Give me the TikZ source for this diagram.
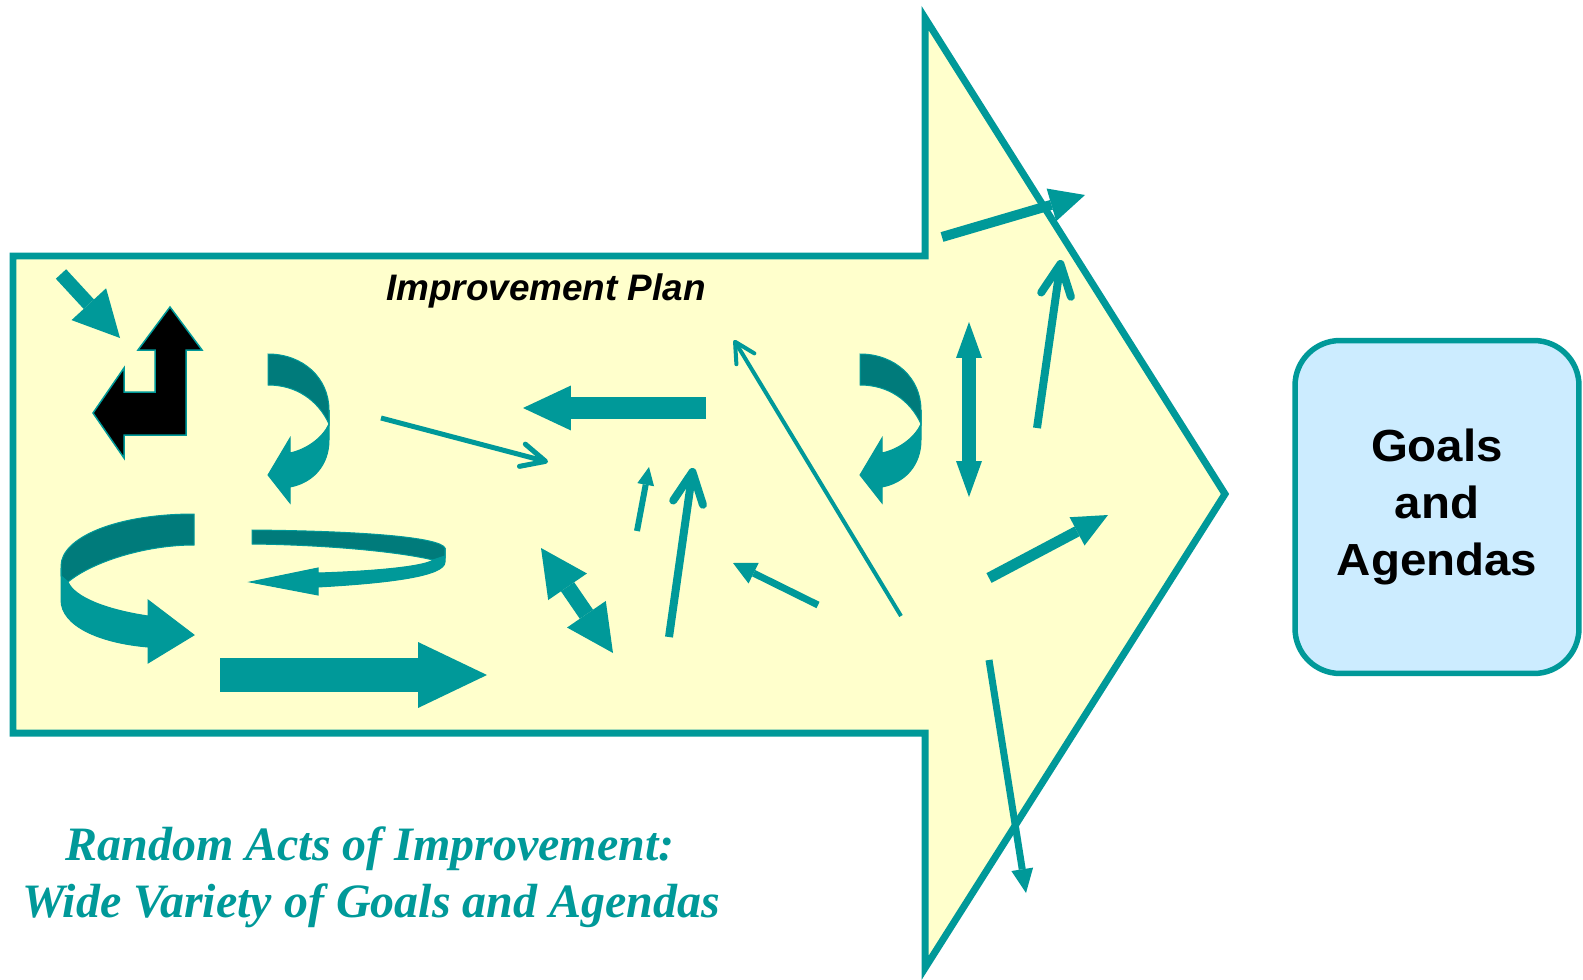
\documentclass[tikz,border=0pt]{standalone}
\usepackage{fontspec}
\newfontfamily\arialf{Liberation Sans}
\newfontfamily\arialw[FakeStretch=1.055]{Liberation Sans}
\newfontfamily\timesf{Liberation Serif}
\usetikzlibrary{arrows.meta}
\definecolor{tealc}{HTML}{009999}
\definecolor{darkteal}{HTML}{007B7B}
\definecolor{paleyellow}{HTML}{FFFFCC}
\definecolor{paleblue}{HTML}{CCECFF}
\tikzset{
  outline/.style={draw=tealc, fill=paleyellow, line width=0.14cm, line join=miter},
  barrow/.style args={#1/#2/#3}{draw=tealc, line width=#1cm, line cap=butt,
    -{Triangle[length=#2cm,width=#3cm,line width=0pt]}},
  dbarrow/.style args={#1/#2/#3}{draw=tealc, line width=#1cm, line cap=butt,
    {Triangle[length=#2cm,width=#3cm,line width=0pt]}-{Triangle[length=#2cm,width=#3cm,line width=0pt]}},
  oarrow/.style args={#1/#2/#3}{draw=tealc, line width=#1cm, line cap=butt,
    -{Straight Barb[length=#2cm,width=#3cm,round]}},
  ribbondark/.style={fill=darkteal, draw=tealc, line width=0.02cm},
  ribbonlight/.style={fill=tealc, draw=tealc, line width=0.02cm},
  goalbox/.style={draw=tealc, fill=paleblue, line width=0.11cm, rounded corners=0.9cm,
    minimum width=5.68cm, minimum height=6.66cm, align=center,
    font=\arialw\bfseries\fontsize{25.6}{32.6}\selectfont},
  plantext/.style={font=\arialf\bfseries\itshape\fontsize{21}{25}\selectfont},
  captext/.style={text=tealc, anchor=base, font=\timesf\bfseries\itshape\fontsize{27.3}{32}\selectfont}
}
\newcommand\curlarr{%
  \fill[ribbondark] (268,354) .. controls (303,354) and (329,378) .. (329,410)
     -- (329,424) .. controls (318,400) and (296,385) .. (268,385) -- cycle;
  \fill[ribbonlight] (329,410) -- (329,440) .. controls (329,466) and (312,483) .. (290,487)
     -- (290,503) -- (268,475) -- (290,438) -- (290,453)
     .. controls (308,449) and (323,437) .. (329,424) -- cycle;
}
\begin{document}
\begin{tikzpicture}[x=0.02cm,y=-0.02cm]
\useasboundingbox (0,0) rectangle (1583,980);
\fill[white] (0,0) rectangle (1583,980);
% big arrow
\draw[outline] (13,256) -- (925,256) -- (925,18) -- (1225,494) -- (925,968) -- (925,733) -- (13,733) -- cycle;
\node[plantext] (plan) at (546,291) {Improvement Plan};
% black bent arrow
\filldraw[fill=black, draw=tealc, line width=0.03cm, line join=miter]
  (170,307) -- (202,350) -- (186,350) -- (186,435) -- (124,435) -- (124,458) -- (93,413)
  -- (124,368) -- (124,392) -- (155,392) -- (155,350) -- (138,350) -- cycle;
% curled arrows
\curlarr
\begin{scope}[shift={(592,0)}]\curlarr\end{scope}
% big C ribbon
\fill[ribbondark] (194,514) .. controls (115,514) and (61,538) .. (61,566) -- (61,576) -- (68,582)
   .. controls (92,562) and (145,545) .. (194,545) -- cycle;
\fill[ribbonlight] (61,568) -- (61,600) .. controls (61,626) and (100,643) .. (148,647)
   -- (148,663) -- (194,635) -- (148,600) -- (148,616) .. controls (108,610) and (75,598) .. (68,582)
   -- (61,576) -- cycle;
% flat ellipse ribbon
\fill[ribbondark] (252,530) .. controls (360,531) and (440,537) .. (445,548) -- (445,558) -- (433,560)
   .. controls (400,552) and (330,545) .. (252,544) -- cycle;
\fill[ribbonlight] (445,548) -- (445,562) .. controls (445,576) and (390,583) .. (318,587)
   -- (318,595) -- (250,582) -- (318,568) -- (318,573) .. controls (380,571) and (425,566) .. (433,560)
   -- (445,556) -- cycle;
% block arrows
\draw[barrow={0.28/0.92/0.94}] (61,274) -- (120,338);
\draw[barrow={0.68/1.38/1.32}] (220,675) -- (487,675);
\draw[barrow={0.44/0.96/0.90}] (706,408) -- (523,408);
\draw[barrow={0.12/0.36/0.34}] (637,531) -- (649,467);
\draw[dbarrow={0.32/0.94/0.94}] (541,548) -- (613,653);
\draw[barrow={0.14/0.46/0.46}] (818,605) -- (733,563);
\draw[barrow={0.20/0.70/0.68}] (942,237) -- (1085,195);
\draw[dbarrow={0.28/0.72/0.52}] (969,322) -- (969,497);
\draw[barrow={0.22/0.70/0.64}] (989,578) -- (1108,515);
\draw[barrow={0.14/0.48/0.44}] (989,660) -- (1026,893);
% open arrows
\draw[oarrow={0.10/0.48/0.46}] (381,418) -- (548,462);
\draw[oarrow={0.16/0.62/0.60}] (669,637) -- (693,468);
\draw[oarrow={0.08/0.40/0.42}] (901,616) -- (734,340);
\draw[oarrow={0.16/0.62/0.60}] (1037,428) -- (1061,260);
% goals box
\node[goalbox] (goals) at (1437,507) {Goals\\and\\Agendas};
% caption
\node[captext] (cap1) at (370,860) {Random Acts of Improvement:};
\node[captext] (cap2) at (371,917) {Wide Variety of Goals and Agendas};
\end{tikzpicture}
\end{document}
